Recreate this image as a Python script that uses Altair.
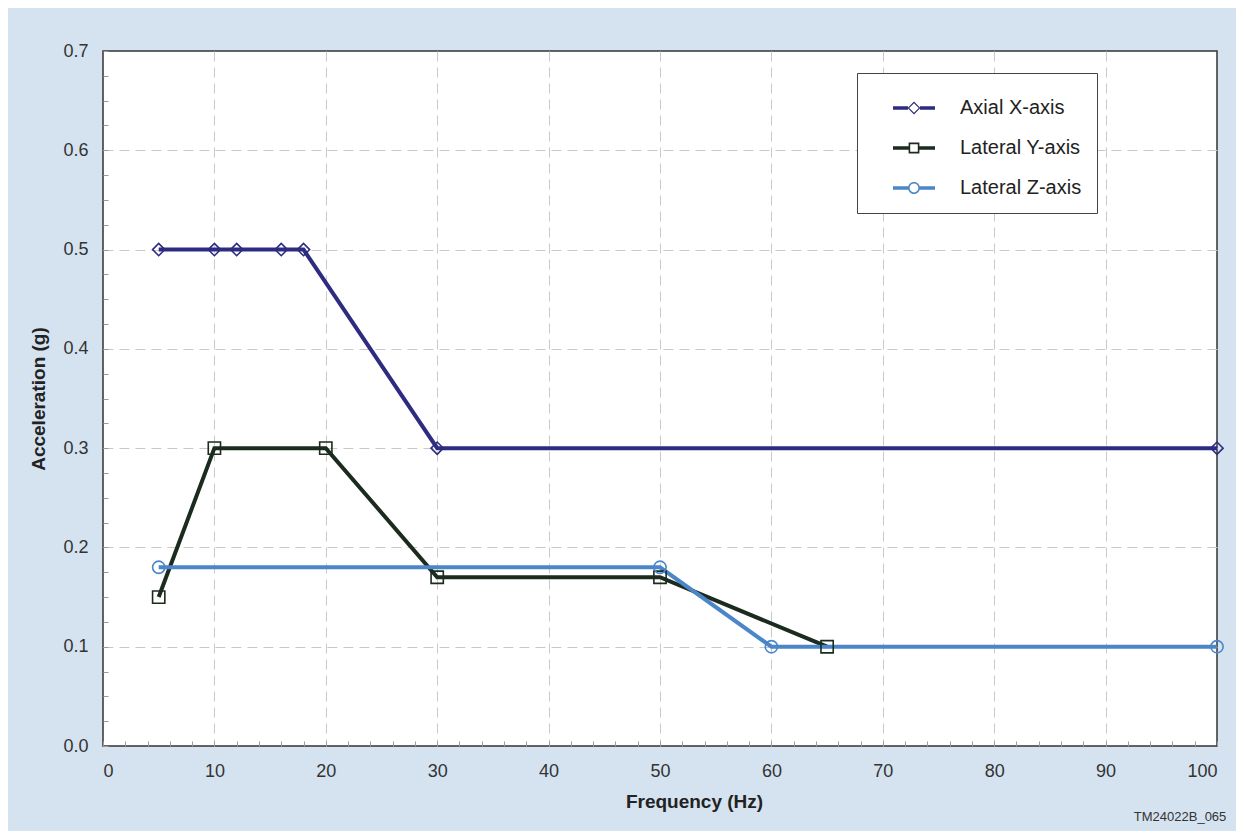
import altair as alt
import pandas as pd

# ---- data ----
axial_freq = [5, 10, 12, 16, 18, 30, 100]
axial_acc = [0.5, 0.5, 0.5, 0.5, 0.5, 0.3, 0.3]

laty_freq = [5, 10, 20, 30, 50, 65]
laty_acc = [0.15, 0.3, 0.3, 0.17, 0.17, 0.1]

latz_freq = [5, 50, 60, 100]
latz_acc = [0.18, 0.18, 0.1, 0.1]

series_names = ["Axial X-axis", "Lateral Y-axis", "Lateral Z-axis"]
series_colors = ["#2d2c80", "#1b2b1d", "#4a86c8"]
series_shapes = ["diamond", "square", "circle"]

x_ticks = [0, 10, 20, 30, 40, 50, 60, 70, 80, 90, 100]
y_ticks = [0.0, 0.1, 0.2, 0.3, 0.4, 0.5, 0.6, 0.7]
x_minor = list(range(0, 101, 2))
y_minor = [round(i * 0.025, 3) for i in range(0, 29)]

rows = []
for name, fr, ac in zip(series_names, [axial_freq, laty_freq, latz_freq],
                        [axial_acc, laty_acc, latz_acc]):
    for f, a in zip(fr, ac):
        rows.append({"series": name, "freq": f, "acc": a})
df = pd.DataFrame(rows)

FONT = "Liberation Sans"
PW, PH = 1114, 695

grid_op_x = {"condition": {"test": "datum.value === 0 || datum.value === 100", "value": 0}, "value": 1}
grid_op_y = {"condition": {"test": "datum.value === 0 || datum.value === 0.7", "value": 0}, "value": 1}

x_enc = alt.X("freq:Q", scale=alt.Scale(domain=[0, 100], nice=False),
              axis=alt.Axis(values=x_ticks, title="Frequency (Hz)", format="d",
                            grid=True, ticks=False, domain=False,
                            labelFontSize=18, labelPadding=16, labelColor="#333",
                            titleFontSize=19, titleFontWeight="bold", titleColor="#222",
                            titlePadding=12, titleX=591, labelFont=FONT, titleFont=FONT,
                            gridColor="#c9c9c9", gridDash=[10, 6], gridWidth=1,
                            gridOpacity=grid_op_x))
y_enc = alt.Y("acc:Q", scale=alt.Scale(domain=[0, 0.7], nice=False),
              axis=alt.Axis(values=y_ticks, title="Acceleration (g)", format=".1f",
                            grid=True, ticks=False, domain=False,
                            labelFontSize=18, labelPadding=15, labelColor="#333",
                            titleFontSize=19, titleFontWeight="bold", titleColor="#222",
                            titlePadding=14, labelFont=FONT, titleFont=FONT,
                            gridColor="#c9c9c9", gridDash=[10, 6], gridWidth=1,
                            gridOpacity=grid_op_y))

layers = []
for name, col, shp in zip(series_names, series_colors, series_shapes):
    base = alt.Chart(df).transform_filter(alt.datum.series == name)
    layers.append(base.mark_line(color=col, strokeWidth=4).encode(x=x_enc, y=y_enc))
for name, col, shp in zip(series_names, series_colors, series_shapes):
    base = alt.Chart(df).transform_filter(alt.datum.series == name)
    layers.append(base.mark_point(color=col, shape=shp, filled=False, size=150,
                                  strokeWidth=1.6, opacity=1).encode(x=x_enc, y=y_enc))

# legend symbols: line arms plus hollow marker (filled outlines, nonzero winding)
arms_d = "M-1.05,-0.09L-0.3,-0.09L-0.3,0.09L-1.05,0.09Z M0.3,-0.09L1.05,-0.09L1.05,0.09L0.3,0.09Z "
leg_diamond = arms_d + "M-0.32,0L0,-0.32L0.32,0L0,0.32Z M-0.24,0L0,0.24L0.24,0L0,-0.24Z"
arms_s = "M-1.05,-0.09L-0.27,-0.09L-0.27,0.09L-1.05,0.09Z M0.27,-0.09L1.05,-0.09L1.05,0.09L0.27,0.09Z "
leg_square = arms_s + "M-0.27,-0.27L0.27,-0.27L0.27,0.27L-0.27,0.27Z M-0.19,-0.19L-0.19,0.19L0.19,0.19L0.19,-0.19Z"
arms_c = "M-1.05,-0.09L-0.29,-0.09L-0.29,0.09L-1.05,0.09Z M0.29,-0.09L1.05,-0.09L1.05,0.09L0.29,0.09Z "
leg_circle = arms_c + ("M-0.3,0A0.3,0.3,0,1,1,0.3,0A0.3,0.3,0,1,1,-0.3,0Z "
                       "M-0.22,0A0.22,0.22,0,1,0,0.22,0A0.22,0.22,0,1,0,-0.22,0Z")

legend_cfg = dict(title=None, orient="none", legendX=754, legendY=22,
                  fillColor="white", strokeColor="#444", padding=15,
                  symbolSize=1600, symbolOffset=22, symbolStrokeWidth=0,
                  labelFontSize=20, labelFont=FONT, labelColor="#222", labelOffset=26,
                  rowPadding=10, labelLimit=400)

legend_layer = alt.Chart(df).transform_filter("datum.freq < 0").mark_point(
    filled=True, opacity=1, strokeWidth=0).encode(
    x=x_enc, y=y_enc,
    color=alt.Color("series:N", scale=alt.Scale(domain=series_names, range=series_colors),
                    legend=alt.Legend(**legend_cfg)),
    shape=alt.Shape("series:N", scale=alt.Scale(domain=series_names,
                                                range=[leg_diamond, leg_square, leg_circle]),
                    legend=alt.Legend(**legend_cfg)),
)
layers.append(legend_layer)

main = alt.layer(*layers)

# small inward minor ticks along the bottom and left edges of the plot
minor_layer = alt.Chart(df).transform_filter("datum.freq < 0").mark_point(opacity=0).encode(
    x=alt.X("freq:Q", axis=alt.Axis(orient="top", offset=-PH, values=x_minor, labels=False,
                                    ticks=True, tickSize=5, tickColor="#9a9a9a", tickWidth=1,
                                    domain=False, grid=False, title=None)),
    y=alt.Y("acc:Q", axis=alt.Axis(orient="right", offset=-PW, values=y_minor, labels=False,
                                   ticks=True, tickSize=5, tickColor="#9a9a9a", tickWidth=1,
                                   domain=False, grid=False, title=None)),
)

chart = alt.layer(main, minor_layer).resolve_axis(x="independent", y="independent").properties(
    width=PW, height=PH,
    autosize=alt.AutoSizeParams(type="none"),
    padding={"left": 95, "top": 43, "right": 19, "bottom": 85},
    background="#d5e3f0",
    title=alt.TitleParams("TM24022B_065", orient="bottom", anchor="end",
                          fontSize=13, font=FONT, fontWeight="normal", color="#333",
                          offset=0),
).configure_view(stroke="#333", strokeWidth=1.5, fill="white")

chart.save("out.html", embed_options={"renderer": "svg", "actions": False})
